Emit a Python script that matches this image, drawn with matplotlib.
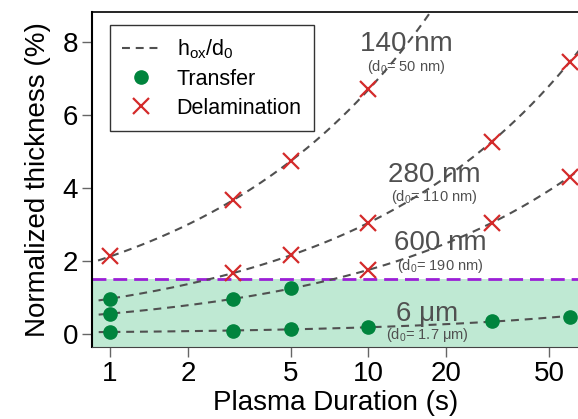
import numpy as np
import matplotlib.pyplot as plt
from matplotlib.ticker import FixedLocator, FixedFormatter, NullLocator

plt.rcParams['font.family'] = ['Liberation Sans', 'DejaVu Sans']
plt.rcParams['mathtext.default'] = 'regular'

# plasma durations (s)
t_vals = [1, 3, 5, 10, 30, 60]

ratio_140nm = [2.12, 3.67, 4.73, 6.70]
outcome_140nm = ['D', 'D', 'D', 'D']
ratio_280nm = [0.96, 1.67, 2.16, 3.04, 5.26, 7.45]
outcome_280nm = ['T', 'D', 'D', 'D', 'D', 'D']
ratio_600nm = [0.55, 0.96, 1.25, 1.75, 3.04, 4.30]
outcome_600nm = ['T', 'T', 'T', 'D', 'D', 'D']
ratio_6um = [0.05, 0.08, 0.13, 0.19, 0.34, 0.47]
outcome_6um = ['T', 'T', 'T', 'T', 'T', 'T']

thick_labels = ['140 nm', '280 nm', '600 nm', '6 μm']
d0_labels = ['50 nm', '110 nm', '190 nm', '1.7 μm']

threshold = 1.5

xticks = [1, 2, 5, 10, 20, 50]
yticks = [0, 2, 4, 6, 8]

green = '#00843d'
red = '#d42a2a'
gray = '#505050'

series = [ratio_140nm, ratio_280nm, ratio_600nm, ratio_6um]
outcomes = [outcome_140nm, outcome_280nm, outcome_600nm, outcome_6um]
# label anchors (x, y of big label, y of d0 label)
label_pos = [(14.0, 7.75, 7.20), (18.0, 4.15, 3.64), (19.0, 2.29, 1.74), (16.9, 0.36, -0.13)]

fig = plt.figure(figsize=(5.78, 4.19), dpi=100)
ax = fig.add_axes([0.159, 0.172, 0.845, 0.799])

ax.axhspan(-5, threshold, color='#bfe9d3', lw=0, zorder=0)
ax.axhline(threshold, color='#9b1fd6', lw=2, dashes=(5, 2.5), zorder=1)

tt = np.logspace(np.log10(0.8), np.log10(70), 300)
for i, vals in enumerate(series):
    tv = t_vals[:len(vals)]
    coef = np.polyfit(np.log(tv), np.log(vals), 1)
    curve = np.exp(np.polyval(coef, np.log(tt)))
    ax.plot(tt, curve, color=gray, lw=1.5, dashes=(3.8, 2.8), zorder=2,
            label='h$_{ox}$/d$_0$' if i == 0 else None)
    for x, y, o in zip(tv, vals, outcomes[i]):
        if o == 'T':
            ax.plot(x, y, 'o', color=green, ms=9.5, zorder=4)
        else:
            ax.plot(x, y, 'x', color=red, ms=12, mew=1.6, zorder=4)
    lx, ly, ly2 = label_pos[i]
    ax.text(lx, ly, thick_labels[i], fontsize=20, color=gray, ha='center', va='baseline', zorder=3)
    ax.text(lx, ly2, '(d$_0$= ' + d0_labels[i] + ')', fontsize=10.5, color=gray,
            ha='center', va='baseline', zorder=3)

# legend proxies
ax.plot([], [], 'o', color=green, ms=9.5, label='Transfer')
ax.plot([], [], 'x', color=red, ms=12, mew=1.6, label='Delamination')

leg = ax.legend(loc='upper left', bbox_to_anchor=(0.037, 0.961), borderaxespad=0,
                fontsize=15.5, frameon=True, fancybox=False, edgecolor='black',
                handlelength=1.8, handletextpad=0.75, labelspacing=0.38, borderpad=0.55)
leg.get_frame().set_linewidth(1.0)

ax.set_xscale('log')
ax.set_xlim(0.851, 66)
ax.set_ylim(-0.36, 8.82)
ax.xaxis.set_major_locator(FixedLocator(xticks))
ax.xaxis.set_major_formatter(FixedFormatter([str(v) for v in xticks]))
ax.xaxis.set_minor_locator(NullLocator())
ax.set_yticks(yticks)

ax.tick_params(axis='both', direction='out', length=7, width=1, color='#666666', labelsize=20, pad=3)

ax.spines['right'].set_visible(False)
ax.spines['left'].set_linewidth(1.5)
ax.spines['top'].set_linewidth(1.2)
ax.spines['bottom'].set_color('#444444')

ax.set_xlabel('Plasma Duration (s)', fontsize=20, labelpad=2)
ax.set_ylabel('Normalized thickness (%)', fontsize=20, labelpad=8)

fig.savefig('out.png', dpi=100)
